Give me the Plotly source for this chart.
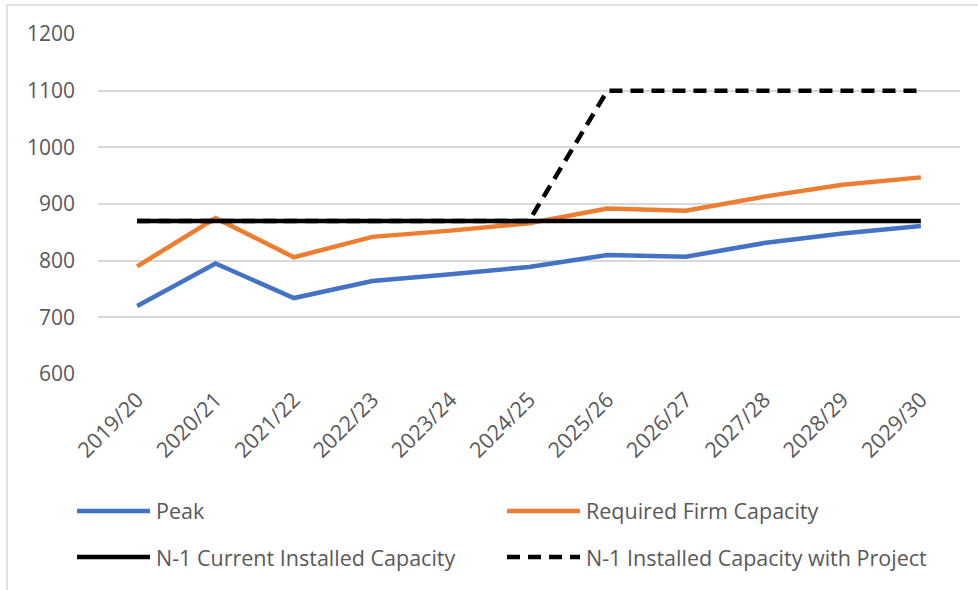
import plotly.graph_objects as go

categories = ["2019/20", "2020/21", "2021/22", "2022/23", "2023/24", "2024/25",
              "2025/26", "2026/27", "2027/28", "2028/29", "2029/30"]
peak = [720, 795, 734, 764, 776, 789, 810, 807, 831, 848, 861]
required_firm = [790, 875, 806, 842, 853, 866, 892, 888, 913, 934, 947]
n1_current = [870, 870, 870, 870, 870, 870, 870, 870, 870, 870, 870]
n1_project = [870, 870, 870, 870, 870, 870, 1100, 1100, 1100, 1100, 1100]
y_ticks = [600, 700, 800, 900, 1000, 1100, 1200]

names = ["Peak", "Required Firm Capacity", "N-1 Current Installed Capacity",
         "N-1 Installed Capacity with Project"]
colors = ["#4472C4", "#ED7D31", "#000000", "#000000"]
dashes = ["solid", "solid", "solid", "13px,8px"]
series = [peak, required_firm, n1_current, n1_project]

W, H = 978, 590
L, R, T, B = 98, 18, 34, 216
PW, PH = W - L - R, H - T - B
FONT = "Open Sans, Lato, sans-serif"
TXT = "#595959"

def px(x):
    return (x - L) / PW

def py(y):
    return (H - B - y) / PH

fig = go.Figure()
order = [0, 1, 3, 2]
for i in order:
    fig.add_trace(go.Scatter(
        x=categories, y=series[i], name=names[i], mode="lines",
        line=dict(color=colors[i], width=4.5, dash=dashes[i]),
        showlegend=False, hoverinfo="skip"))

shapes = []
annotations = []
# border
shapes.append(dict(type="rect", xref="paper", yref="paper",
                   x0=px(7), x1=px(W + 5), y0=py(5), y1=py(H + 5),
                   line=dict(color="#D9D9D9", width=1.5), layer="below"))
# manual legend
legend_pos = [(77, 511), (507, 511), (77, 557), (507, 557)]
for i, (lx, ly) in enumerate(legend_pos):
    shapes.append(dict(type="line", xref="paper", yref="paper",
                       x0=px(lx), x1=px(lx + 73), y0=py(ly), y1=py(ly),
                       line=dict(color=colors[i], width=4.5, dash=dashes[i])))
    annotations.append(dict(xref="paper", yref="paper", x=px(lx + 77), y=py(ly),
                            xanchor="left", yanchor="middle", showarrow=False,
                            text=names[i], font=dict(family=FONT, size=21.5, color=TXT)))

fig.update_layout(
    width=W, height=H,
    margin=dict(l=L, r=R, t=T, b=B),
    paper_bgcolor="white", plot_bgcolor="white",
    showlegend=False,
    shapes=shapes, annotations=annotations,
    xaxis=dict(type="category", range=[-0.5, 10.5], showgrid=False, showline=False,
               zeroline=False, ticks="", tickangle=-45, ticklabelstandoff=8,
               tickfont=dict(family=FONT, size=21.5, color=TXT)),
    yaxis=dict(range=[600, 1200], tickvals=y_ticks, showgrid=True,
               gridcolor="#D9D9D9", gridwidth=1.5, zeroline=False, showline=False,
               ticks="", ticklabelstandoff=22,
               tickfont=dict(family=FONT, size=21, color=TXT)),
)

fig.write_html("out.html", config={"displayModeBar": False},
               post_script="document.body.style.margin='0';document.body.style.padding='0';")
